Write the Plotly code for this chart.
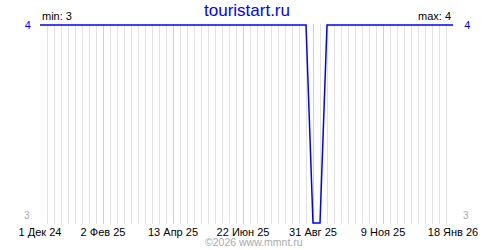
import plotly.graph_objects as go
import pandas as pd

# Weekly data
dates = pd.date_range("2024-12-01", "2026-01-18", freq="7D")
values = [4] * len(dates)
dip_dates = ["2025-08-31", "2025-09-07"]
for d in dip_dates:
    values[list(dates).index(pd.Timestamp(d))] = 3

tick_dates = ["2024-12-01", "2025-02-02", "2025-04-13", "2025-06-22",
              "2025-08-31", "2025-11-09", "2026-01-18"]
tick_labels = ["1 Дек 24", "2 Фев 25", "13 Апр 25", "22 Июн 25",
               "31 Авг 25", "9 Ноя 25", "18 Янв 26"]
y_top = 4
y_bottom = 3

title = "touristart.ru"
min_text = "min: 3"
max_text = "max: 4"
footer = "©2026 www.mmnt.ru"

FONT = "Liberation Sans"

label_map = {pd.Timestamp(d): t for d, t in zip(tick_dates, tick_labels)}
week_text = [label_map.get(d, "") for d in dates]
xr = [tick_dates[0], tick_dates[-1]]

fig = go.Figure()
fig.add_trace(go.Scatter(x=dates, y=values, mode="lines", xaxis="x", yaxis="y",
                         line=dict(color="#0000ff", width=1.5),
                         hoverinfo="skip", showlegend=False))
fig.add_trace(go.Scatter(x=dates, y=values, mode="lines", xaxis="x", yaxis="y2",
                         line=dict(color="rgba(0,0,0,0)", width=0),
                         hoverinfo="skip", showlegend=False))
fig.add_trace(go.Scatter(x=dates, y=values, mode="lines", xaxis="x2", yaxis="y",
                         line=dict(color="rgba(0,0,0,0)", width=0),
                         hoverinfo="skip", showlegend=False))

fig.update_layout(
    width=500, height=250,
    margin=dict(l=40, r=47, t=24, b=24),
    paper_bgcolor="white", plot_bgcolor="white",
    font=dict(family=FONT, size=11, color="black"),
    xaxis=dict(
        range=xr, tickmode="array", tickvals=list(dates), ticktext=week_text,
        showgrid=True, gridcolor="#e2e2e2", gridwidth=1,
        ticks="", zeroline=False, showline=False,
        tickfont=dict(family=FONT, size=11, color="black"),
    ),
    xaxis2=dict(
        range=xr, overlaying="x", side="bottom", tickmode="array", tickvals=tick_dates,
        showticklabels=False, showgrid=True, gridcolor="#ffbcbc", gridwidth=1,
        ticks="", zeroline=False, showline=False,
    ),
    yaxis=dict(
        range=[2.995, 4.005], tickmode="array", tickvals=[y_bottom, y_top],
        ticktext=["", str(y_top)],
        showgrid=True, gridcolor="#dddddd", zeroline=False, showline=False,
        ticks="outside", ticklen=6, tickcolor="rgba(0,0,0,0)",
        tickfont=dict(family=FONT, size=11, color="#0000ff"),
    ),
    yaxis2=dict(
        range=[2.995, 4.005], tickmode="array", tickvals=[y_top],
        ticktext=[str(y_top)],
        overlaying="y", side="right", showgrid=False, zeroline=False, showline=False,
        ticks="outside", ticklen=8, tickcolor="rgba(0,0,0,0)",
        tickfont=dict(family=FONT, size=11, color="#0000ff"),
    ),
    annotations=[
        dict(text=title, xref="paper", yref="paper", x=0.5, y=1, yshift=25,
             xanchor="center", yanchor="top", showarrow=False,
             font=dict(family=FONT, size=17, color="#0000ff")),
        dict(text=min_text, xref="paper", yref="paper", x=0, y=1, xshift=0,
             xanchor="left", yanchor="bottom", showarrow=False,
             font=dict(family=FONT, size=11, color="black")),
        dict(text=max_text, xref="paper", yref="paper", x=1, y=1, xshift=0,
             xanchor="right", yanchor="bottom", showarrow=False,
             font=dict(family=FONT, size=11, color="black")),
        dict(text=str(y_bottom), xref="paper", yref="y", x=0, y=y_bottom,
             xshift=-8, xanchor="right", yanchor="bottom", showarrow=False,
             font=dict(family=FONT, size=10, color="#aaaaaa")),
        dict(text=str(y_bottom), xref="paper", yref="y", x=1, y=y_bottom,
             xshift=8, xanchor="left", yanchor="bottom", showarrow=False,
             font=dict(family=FONT, size=10, color="#aaaaaa")),
        dict(text=footer, xref="paper", yref="paper", x=0.5, y=0, yshift=-26,
             xshift=7, xanchor="center", yanchor="bottom", showarrow=False,
             font=dict(family=FONT, size=10.5, color="#aaaaaa")),
    ],
)

fig.write_html("out.html")
